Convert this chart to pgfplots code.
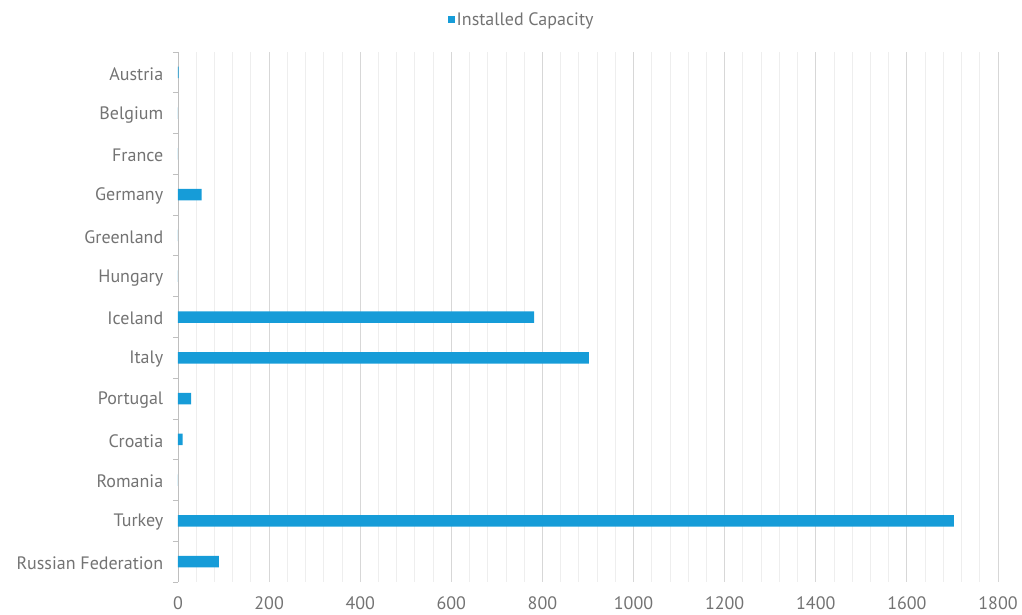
\documentclass[border=0pt]{standalone}
\usepackage{pgfplots}
\pgfplotsset{compat=1.18}
\usepackage{fontspec}
\setmainfont{PT Sans}
\definecolor{barblue}{RGB}{22,156,216}
\definecolor{txtgray}{RGB}{115,115,115}
\definecolor{majgrid}{RGB}{215,215,215}
\definecolor{mingrid}{RGB}{238,238,238}
\definecolor{axgray}{RGB}{191,191,191}

\pgfplotstableread{
idx value
0  1.2
1  0
2  0
3  52
4  0
5  0
6  782
7  902
8  29
9  10
10 0
11 1703
12 90
}\capacity

\begin{document}
\begin{tikzpicture}[x=1pt,y=1pt]
\useasboundingbox (-178,-32) rectangle (844,582);
\begin{axis}[
  at={(0,0)}, anchor=south west,
  scale only axis, width=820pt, height=530pt,
  xbar, bar width=11.5pt,
  xmin=0, xmax=1800,
  ymin=-0.5, ymax=12.5, y dir=reverse,
  ytick={0,...,12},
  yticklabels={Austria,Belgium,France,Germany,Greenland,Hungary,Iceland,Italy,Portugal,Croatia,Romania,Turkey,Russian Federation},
  minor ytick={-0.5,0.5,...,12.5},
  xtick={0,200,...,1800},
  minor x tick num=4,
  xmajorgrids, xminorgrids,
  major x grid style={majgrid, line width=0.8pt},
  minor x grid style={mingrid, line width=0.8pt},
  axis y line*=left, axis x line*=bottom,
  x axis line style={draw=none},
  y axis line style={axgray, line width=0.8pt},
  x tick style={draw=none}, minor x tick style={draw=none},
  major y tick style={draw=none},
  minor y tick style={axgray, line width=0.8pt},
  minor tick length=5pt,
  tick align=outside,
  ticklabel style={font=\fontsize{18}{20}\selectfont, text=txtgray},
  /pgf/number format/assume math mode=true,
  /pgf/number format/1000 sep={},
  xticklabel style={yshift=-7pt},
  yticklabel style={xshift=-7pt, yshift=-1.5pt},
  legend style={at={(axis description cs:0.4190,1.0604)}, anchor=center,
    draw=none, fill=none, font=\fontsize{18}{20}\selectfont, text=txtgray,
    inner sep=0pt},
  legend image code/.code={\fill[barblue] (0pt,-3.5pt) rectangle (7pt,3.5pt);},
  legend cell align=left,
]
\addplot[draw=none, fill=barblue] table[x=value, y=idx] {\capacity};
\addlegendentry{Installed Capacity}
\end{axis}
\end{tikzpicture}
\end{document}
